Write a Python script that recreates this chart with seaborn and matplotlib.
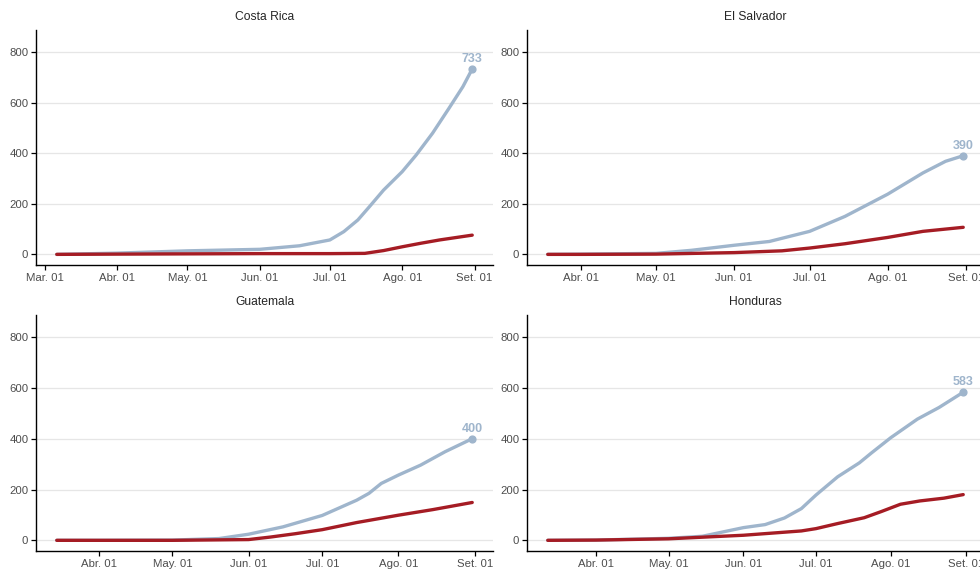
import pandas as pd
import seaborn as sns
import matplotlib.pyplot as plt

# casos por 100 mil hab. (azul) y muertes por millón de hab. (rojo), acumulados
cr_case_dates = ["2020-03-06", "2020-04-01", "2020-05-01", "2020-06-01", "2020-06-18", "2020-07-01",
                 "2020-07-07", "2020-07-13", "2020-07-18", "2020-07-24", "2020-08-01", "2020-08-07",
                 "2020-08-14", "2020-08-21", "2020-08-27", "2020-08-31"]
cr_cases = [0, 5, 14, 20, 34, 57, 90, 136, 189, 254, 327, 393, 479, 577, 663, 733]
cr_death_dates = ["2020-03-06", "2020-04-01", "2020-05-01", "2020-06-01", "2020-07-01", "2020-07-16",
                  "2020-07-24", "2020-08-01", "2020-08-09", "2020-08-17", "2020-08-31"]
cr_deaths = [0, 1, 2, 3, 3, 4, 15, 30, 44, 57, 76]

sv_case_dates = ["2020-03-19", "2020-04-01", "2020-05-01", "2020-05-15", "2020-06-01", "2020-06-15",
                 "2020-07-01", "2020-07-15", "2020-08-01", "2020-08-15", "2020-08-24", "2020-08-31"]
sv_cases = [0, 1, 4, 16, 36, 51, 91, 150, 238, 322, 368, 390]
sv_death_dates = ["2020-03-19", "2020-04-01", "2020-05-01", "2020-06-01", "2020-06-20", "2020-07-01",
                  "2020-07-15", "2020-08-01", "2020-08-15", "2020-08-31"]
sv_deaths = [0, 0, 1, 7, 14, 25, 42, 67, 91, 107]

gt_case_dates = ["2020-03-15", "2020-04-01", "2020-05-01", "2020-05-20", "2020-06-01", "2020-06-15",
                 "2020-07-01", "2020-07-15", "2020-07-20", "2020-07-25", "2020-08-01", "2020-08-10",
                 "2020-08-20", "2020-08-31"]
gt_cases = [0, 0, 1, 7, 24, 53, 98, 158, 185, 224, 257, 296, 349, 400]
gt_death_dates = ["2020-03-15", "2020-04-01", "2020-05-01", "2020-06-01", "2020-06-10", "2020-06-20",
                  "2020-07-01", "2020-07-15", "2020-08-01", "2020-08-15", "2020-08-31"]
gt_deaths = [0, 0, 0, 3, 13, 26, 42, 70, 99, 121, 149]

hn_case_dates = ["2020-03-12", "2020-04-01", "2020-05-01", "2020-05-15", "2020-06-01", "2020-06-10",
                 "2020-06-18", "2020-06-25", "2020-07-01", "2020-07-10", "2020-07-19", "2020-07-24",
                 "2020-08-01", "2020-08-12", "2020-08-21", "2020-08-31"]
hn_cases = [0, 1, 8, 16, 50, 62, 88, 125, 178, 250, 305, 344, 404, 477, 523, 583]
hn_death_dates = ["2020-03-12", "2020-04-01", "2020-05-01", "2020-06-01", "2020-06-25", "2020-07-01",
                  "2020-07-10", "2020-07-21", "2020-07-28", "2020-08-05", "2020-08-13", "2020-08-23",
                  "2020-08-31"]
hn_deaths = [0, 1, 6, 20, 37, 46, 66, 89, 113, 142, 155, 166, 180]

countries = ["Costa Rica", "El Salvador", "Guatemala", "Honduras"]
series = {
    "Costa Rica": (cr_case_dates, cr_cases, cr_death_dates, cr_deaths),
    "El Salvador": (sv_case_dates, sv_cases, sv_death_dates, sv_deaths),
    "Guatemala": (gt_case_dates, gt_cases, gt_death_dates, gt_deaths),
    "Honduras": (hn_case_dates, hn_cases, hn_death_dates, hn_deaths),
}

month_dates = ["2020-03-01", "2020-04-01", "2020-05-01", "2020-06-01", "2020-07-01", "2020-08-01", "2020-09-01"]
month_labels = ["Mar. 01", "Abr. 01", "May. 01", "Jun. 01", "Jul. 01", "Ago. 01", "Set. 01"]
y_ticks = [0, 200, 400, 600, 800]

blue = "#9fb5cc"
red = "#a51c24"

sns.set_style("white")
plt.rcParams["font.family"] = ["Liberation Sans", "DejaVu Sans"]

fig = plt.figure(figsize=(9.8, 5.7), dpi=100)
positions = [
    [36 / 980, 1 - 265 / 570, 457 / 980, 235 / 570],
    [527 / 980, 1 - 265 / 570, 457 / 980, 235 / 570],
    [36 / 980, 1 - 551 / 570, 457 / 980, 236 / 570],
    [527 / 980, 1 - 551 / 570, 457 / 980, 236 / 570],
]
months = pd.to_datetime(month_dates)

for pos, country in zip(positions, countries):
    ax = fig.add_axes(pos)
    cd, cv, dd, dv = series[country]
    cases = pd.DataFrame({"fecha": pd.to_datetime(cd), "valor": cv})
    deaths = pd.DataFrame({"fecha": pd.to_datetime(dd), "valor": dv})

    sns.lineplot(data=cases, x="fecha", y="valor", color=blue, lw=2.4, ax=ax)
    sns.lineplot(data=deaths, x="fecha", y="valor", color=red, lw=2.4, ax=ax)

    # punto y etiqueta del último valor
    last = cases.iloc[-1]
    ax.scatter([last["fecha"]], [last["valor"]], color=blue, s=24, zorder=5)
    ax.annotate(f"{last['valor']:.0f}", (last["fecha"], last["valor"]),
                xytext=(0, 3), textcoords="offset points", ha="center", va="bottom",
                color=blue, fontsize=9, fontweight="bold")

    start = cases["fecha"].min()
    end = cases["fecha"].max()
    pad = (end - start) * 0.05
    ax.set_xlim(start - pad, end + pad)
    ax.set_ylim(-42, 887)

    keep = [i for i, d in enumerate(months) if start - pad <= d <= end + pad]
    ax.set_xticks([months[i] for i in keep])
    ax.set_xticklabels([month_labels[i] for i in keep])
    ax.set_yticks(y_ticks)

    ax.grid(axis="y", color="#e6e6e6", lw=0.9)
    ax.grid(axis="x", visible=False)
    ax.set_axisbelow(True)
    for side in ["top", "right"]:
        ax.spines[side].set_visible(False)
    for side in ["left", "bottom"]:
        ax.spines[side].set_color("black")
        ax.spines[side].set_linewidth(1.0)
    ax.tick_params(axis="both", length=3.5, width=0.9, color="black",
                   labelsize=8.2, labelcolor="#4d4d4d", direction="out", pad=2,
                   bottom=True, left=True)
    ax.set_xlabel("")
    ax.set_ylabel("")
    ax.set_title(country, fontsize=8.7, pad=7)

plt.savefig("out.png", dpi=100)
